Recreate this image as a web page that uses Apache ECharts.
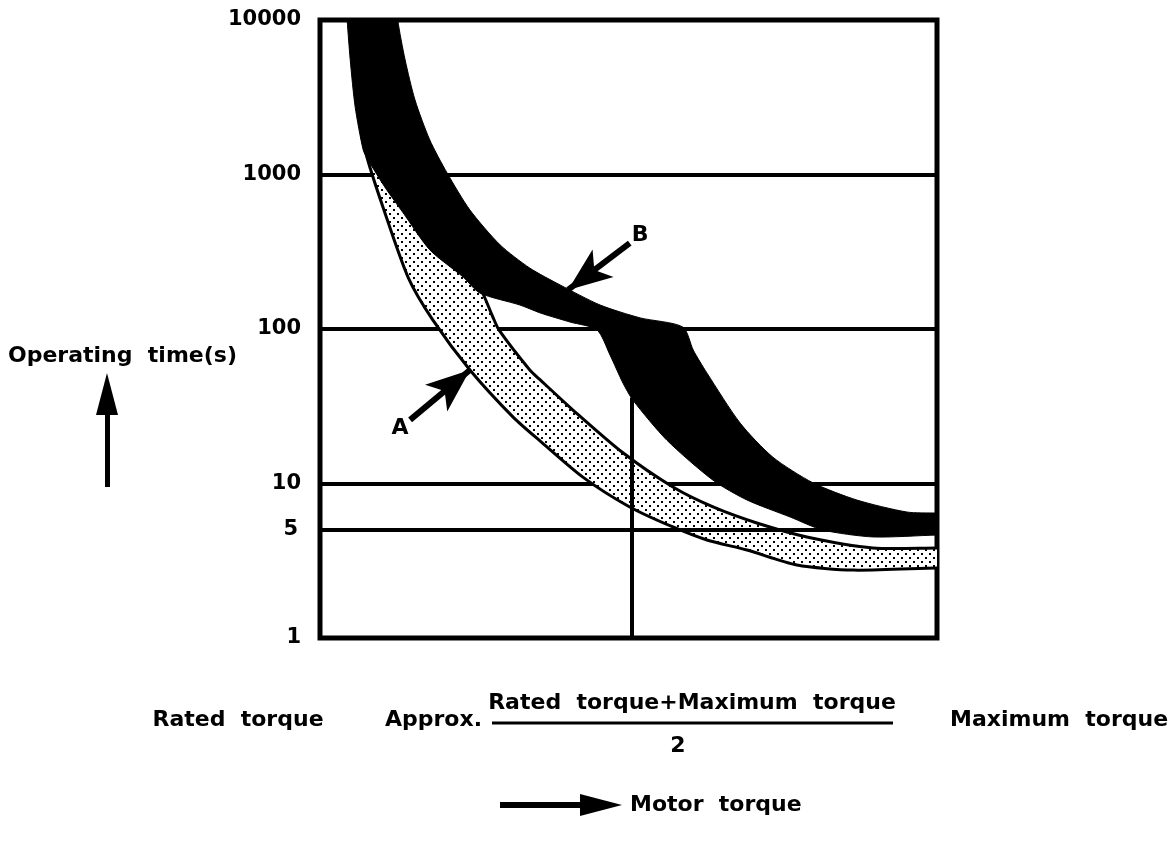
<!DOCTYPE html>
<html>
<head>
    <meta charset="utf-8">
    <title>Operating time vs motor torque</title>
    <script src="https://cdn.jsdelivr.net/npm/echarts@6/dist/echarts.min.js"></script>
</head>
<body style="margin:0;background:#fff;">
    <div id="main" style="width:1173px;height:848px;"></div>
    <script type="text/javascript">
        // x: motor torque, 0 = rated torque, 100 = maximum torque
        // y: operating time (s), log scale
        const yTicks = [1, 5, 10, 100, 1000, 10000];
        const midTorque = 50.6;      // approx. (rated + maximum) / 2
        const midLineTop = 36;

        // band B (black); ends run a little past the frame and are clipped
        const bUpperX = [12.4, 12.6, 13.8, 15.4, 17.8, 20.6, 24.3, 29.2, 34.0, 38.9, 45.4, 51.9, 58.8, 60.5, 62.7, 68.1, 73.4, 79.9, 87.0, 95.1, 100, 103];
        const bUpperY = [14000, 10000, 5510, 3035, 1672, 1023, 589, 350, 248, 193, 143, 118, 103, 73, 52, 24.6, 14.8, 10.1, 7.82, 6.54, 6.44, 6.44];
        const bLowerX = [4.2, 4.4, 4.9, 5.7, 7.0, 7.8, 10.5, 13.5, 17.8, 23.2, 25.9, 32.4, 35.7, 40.5, 44.9, 47.0, 49.1, 50.7, 56.2, 63.7, 69.2, 76.2, 81.5, 89.6, 100, 103];
        const bLowerY = [14000, 10000, 5510, 2735, 1442, 1242, 830, 563, 325, 217, 171, 143, 127, 111, 98.6, 67.9, 44.7, 34.7, 19.1, 10.5, 7.82, 6.07, 5.0, 4.51, 4.64, 4.64];

        // band A (dotted)
        const aUpperX = [6.8, 7.0, 10.5, 13.5, 17.8, 23.2, 25.9, 28.0, 29.0, 34.0, 35.7, 41.0, 49.1, 57.2, 63.7, 70.8, 78.9, 89.6, 100, 103];
        const aUpperY = [1857, 1600, 900, 600, 350, 235, 185, 120, 98.6, 54.3, 46.8, 29.9, 15.8, 9.49, 7.05, 5.55, 4.51, 3.83, 3.83, 3.83];
        const aLowerX = [6.8, 7.6, 10.2, 14.3, 18.3, 24.3, 31.3, 35.7, 42.6, 50.2, 57.2, 62.7, 69.2, 77.3, 86.4, 100, 103];
        const aLowerY = [1857, 1298, 616, 215, 114, 54.3, 26.9, 18.8, 11.0, 7.05, 5.23, 4.31, 3.71, 2.97, 2.75, 2.84, 2.84];

        // pointer arrows: [tail, tip]
        const arrowA = [[14.6, 25.8], [24.3, 54.3]];
        const arrowB = [[50.2, 360], [40.2, 179]];

        const FONT = 'DejaVu Sans';
        const txt = { fontFamily: FONT, fontWeight: 'bold', fontSize: 22, fill: '#000' };

        function dotPattern() {
            const c = document.createElement('canvas');
            c.width = 8;
            c.height = 8;
            const g = c.getContext('2d');
            g.fillStyle = '#fff';
            g.fillRect(0, 0, 8, 8);
            g.fillStyle = '#000';
            g.fillRect(1, 1, 2, 2);
            g.fillRect(5, 5, 2, 2);
            return c;
        }

        function band(name, upX, upY, loX, loY, style, z) {
            return {
                name: name,
                type: 'custom',
                z: z,
                clip: true,
                data: [[0, 1]],
                renderItem: function (params, api) {
                    const pts = [];
                    for (let i = 0; i < upX.length; i++) pts.push(api.coord([upX[i], upY[i]]));
                    for (let i = loX.length - 1; i >= 0; i--) pts.push(api.coord([loX[i], loY[i]]));
                    return { type: 'polygon', shape: { points: pts, smooth: 0.25 }, style: style };
                }
            };
        }

        function pointer(p, label) {
            return [
                { coord: p[0], symbol: 'none', label: { formatter: label } },
                { coord: p[1], symbol: 'arrow', symbolSize: [26, 44] }
            ];
        }

        var myChart = echarts.init(document.getElementById('main'));
        var option = {
            animation: false,
            grid: {
                left: 320, top: 20, width: 617, height: 618,
                show: true, borderColor: '#000', borderWidth: 5, backgroundColor: '#fff'
            },
            xAxis: {
                type: 'value', min: 0, max: 100,
                axisLine: { show: false }, axisTick: { show: false },
                axisLabel: { show: false }, splitLine: { show: false }
            },
            yAxis: {
                type: 'log', logBase: 10, min: 1, max: 10000,
                axisLine: { show: false }, axisTick: { show: false },
                axisLabel: {
                    margin: 19, color: '#000', fontFamily: FONT, fontWeight: 'bold', fontSize: 21,
                    formatter: function (v) { return yTicks.indexOf(v) >= 0 ? String(v) : ''; }
                },
                splitLine: { show: true, lineStyle: { color: '#000', width: 4 } }
            },
            series: [
                {
                    name: 'guides',
                    type: 'line',
                    z: 1,
                    data: [[0, 1]],
                    symbol: 'none',
                    lineStyle: { opacity: 0 },
                    markLine: {
                        silent: true,
                        symbol: 'none',
                        lineStyle: { color: '#000', width: 4, type: 'solid' },
                        label: {
                            position: 'start', distance: 22, color: '#000',
                            fontFamily: FONT, fontWeight: 'bold', fontSize: 21
                        },
                        data: [
                            { yAxis: 5, label: { formatter: '5' } },
                            [
                                { coord: [midTorque, 1], label: { show: false } },
                                { coord: [midTorque, midLineTop] }
                            ]
                        ]
                    }
                },
                band('A', aUpperX, aUpperY, aLowerX, aLowerY,
                    { fill: { image: dotPattern(), repeat: 'repeat' }, stroke: '#000', lineWidth: 3 }, 3),
                band('B', bUpperX, bUpperY, bLowerX, bLowerY,
                    { fill: '#000', stroke: '#000', lineWidth: 1 }, 4),
                {
                    name: 'pointers',
                    type: 'line',
                    z: 6,
                    data: [[0, 1]],
                    symbol: 'none',
                    lineStyle: { opacity: 0 },
                    markLine: {
                        silent: true,
                        lineStyle: { color: '#000', width: 6, type: 'solid' },
                        label: {
                            position: 'start', distance: 13, color: '#000',
                            fontFamily: FONT, fontWeight: 'bold', fontSize: 22
                        },
                        data: [pointer(arrowA, 'A'), pointer(arrowB, 'B')]
                    }
                }
            ],
            graphic: [
                { type: 'text', left: 8, top: 345, style: Object.assign({ text: 'Operating  time(s)' }, txt) },
                { type: 'rect', shape: { x: 105, y: 405, width: 5, height: 82 }, style: { fill: '#000' } },
                { type: 'polygon', shape: { points: [[107, 373], [96, 415], [118, 415]] }, style: { fill: '#000' } },

                { type: 'text', x: 238, y: 720, style: Object.assign({ text: 'Rated  torque', align: 'center', verticalAlign: 'middle' }, txt) },
                { type: 'text', x: 385, y: 720, style: Object.assign({ text: 'Approx.', align: 'left', verticalAlign: 'middle' }, txt) },
                { type: 'text', x: 692, y: 703, style: Object.assign({ text: 'Rated  torque+Maximum  torque', align: 'center', verticalAlign: 'middle' }, txt) },
                { type: 'line', shape: { x1: 492, y1: 723, x2: 893, y2: 723 }, style: { stroke: '#000', lineWidth: 3 } },
                { type: 'text', x: 678, y: 746, style: Object.assign({ text: '2', align: 'center', verticalAlign: 'middle' }, txt) },
                { type: 'text', x: 950, y: 720, style: Object.assign({ text: 'Maximum  torque', align: 'left', verticalAlign: 'middle' }, txt) },

                { type: 'rect', shape: { x: 500, y: 802, width: 85, height: 6 }, style: { fill: '#000' } },
                { type: 'polygon', shape: { points: [[580, 794], [622, 805], [580, 816]] }, style: { fill: '#000' } },
                { type: 'text', x: 630, y: 805, style: Object.assign({ text: 'Motor  torque', align: 'left', verticalAlign: 'middle' }, txt) }
            ]
        };
        myChart.setOption(option);
    </script>
</body>
</html>
